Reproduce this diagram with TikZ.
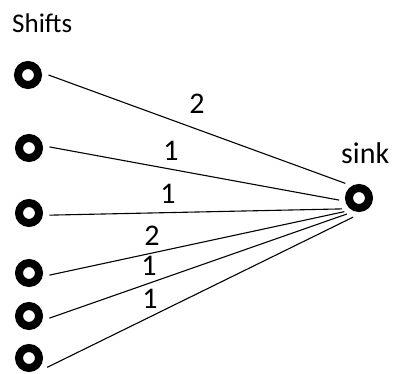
\documentclass[tikz,border=0pt]{standalone}
\usepackage{fontspec}
\setmainfont{Carlito}
\begin{document}
\begin{tikzpicture}[x=1pt,y=-1pt,
  vert/.style={circle,draw=black,line width=8pt,minimum size=20pt,inner sep=0pt,outer sep=10.5pt},
  edge/.style={draw=black,line width=1.1pt},
  wlab/.style={font=\fontsize{30}{30}\selectfont,anchor=base,inner sep=0pt},
  ttl/.style={font=\fontsize{27}{27}\selectfont,anchor=base west,inner sep=0pt}]
\useasboundingbox (0,0) rectangle (396,373);
\node[vert] (s1) at (28,75) {};
\node[vert] (s2) at (29,148) {};
\node[vert] (s3) at (29,213) {};
\node[vert] (s4) at (29,273) {};
\node[vert] (s5) at (29,316) {};
\node[vert] (s6) at (29,358) {};
\node[vert,outer sep=10pt] (sink) at (359,198) {};
\node[ttl] (shifts) at (12,32) {Shifts};
\node[ttl,font=\fontsize{30}{30}\selectfont] (sinklab) at (341,163) {sink};
\draw[edge] (s1.0) -- (sink.133);
\draw[edge] (s2.3) -- (sink.186);
\draw[edge] (s3.-6) -- (sink.213);
\draw[edge] (s4.-6) -- (sink.223);
\draw[edge] (s5.-6) -- (sink.233);
\draw[edge] (s6.-27) -- (sink.253);
\node[wlab] (w1) at (197,113) {2};
\node[wlab] (w2) at (171,160) {1};
\node[wlab] (w3) at (168,203) {1};
\node[wlab] (w4) at (152,245) {2};
\node[wlab] (w5) at (149,275) {1};
\node[wlab] (w6) at (150,308) {1};
\end{tikzpicture}
\end{document}
